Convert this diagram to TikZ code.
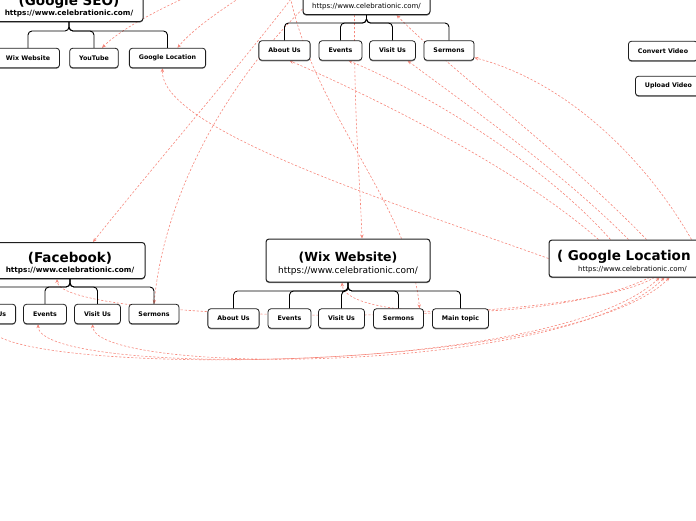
\documentclass[tikz,border=0pt]{standalone}
\usepackage{fontspec}
\setmainfont{DejaVu Sans}
\usetikzlibrary{arrows.meta,shadows,calc}
\pgfdeclarelayer{bg}
\pgfsetlayers{bg,main}
\definecolor{linkred}{RGB}{246,136,124}
\definecolor{boxline}{RGB}{30,30,30}
\newcommand{\ttlfont}{\fontsize{13.5}{14}\selectfont\bfseries}
\newcommand{\wixttl}{\fontsize{12.5}{14}\selectfont\bfseries}
\tikzset{
  box/.style={draw=boxline, line width=0.8pt, rounded corners=3pt, fill=white,
    drop shadow={shadow xshift=0pt, shadow yshift=-1.1pt, fill=black!55, opacity=0.8}},
  kid/.style={box, font=\fontsize{6.3}{7.5}\selectfont\bfseries, inner xsep=9.5pt, inner ysep=0pt, minimum height=19.5pt},
  hub/.style={box, line width=1pt, align=center, inner xsep=6pt},
  tree/.style={draw=black, line width=0.9pt, rounded corners=4pt},
  link/.style={draw=linkred, line width=0.6pt, dash pattern=on 2.2pt off 1.8pt,
    -{Stealth[length=4pt,width=3.4pt]}},
  both/.style={{Stealth[length=4pt,width=3.4pt]}-{Stealth[length=4pt,width=3.4pt]}},
}
\begin{document}
\begin{tikzpicture}[x=1pt,y=-1pt]
\useasboundingbox (0,0) rectangle (696,520);

% hubs
\node[hub, minimum width=148pt, anchor=south, inner ysep=4.5pt, font=\fontsize{7.3}{9.5}\selectfont\bfseries] (seo) at (69,22)
  {{\ttlfont (Google SEO)}\\https://www.celebrationic.com/};
\node[hub, minimum width=127pt, anchor=south, inner ysep=5pt, font=\fontsize{7}{12}\selectfont] (topc) at (366.5,15)
  {{\ttlfont\strut}\\https://www.celebrationic.com/};
\node[hub, minimum width=150pt, minimum height=36pt, font=\fontsize{7.3}{10}\selectfont\bfseries] (fb) at (70,260.5)
  {{\ttlfont\rule{0pt}{16pt}(Facebook)}\\https://www.celebrationic.com/};
\node[hub, minimum width=164pt, minimum height=43pt, font=\fontsize{9}{11.5}\selectfont] (wix) at (348,260.5)
  {{\wixttl\rule{0pt}{15.5pt}(Wix Website)}\\https://www.celebrationic.com/};
\node[hub, minimum width=167pt, minimum height=37pt, font=\fontsize{7}{11}\selectfont] (gl) at (632.5,258.5)
  {\makebox[151pt][l]{\ttlfont\rule{0pt}{16pt}( Google Location}\\https://www.celebrationic.com/};

% children
\node[kid] (seoWix) at (28,58) {Wix Website};
\node[kid] (seoYT) at (94,58) {YouTube};
\node[kid] (seoGL) at (167.5,58) {Google Location};
\node[kid] (tAbout) at (284.5,50.5) {About Us};
\node[kid] (tEvents) at (340.5,50.5) {Events};
\node[kid] (tVisit) at (392.5,50.5) {Visit Us};
\node[kid] (tSermons) at (449,50.5) {Sermons};
\node[kid] (fbAbout) at (-10,314) {About Us};
\node[kid] (fbEvents) at (45,314) {Events};
\node[kid] (fbVisit) at (97.5,314) {Visit Us};
\node[kid] (fbSermons) at (154,314) {Sermons};
\node[kid] (wAbout) at (233.5,318.5) {About Us};
\node[kid] (wEvents) at (289.5,318.5) {Events};
\node[kid] (wVisit) at (341.5,318.5) {Visit Us};
\node[kid] (wSermons) at (398.5,318.5) {Sermons};
\node[kid] (wMain) at (460.5,318.5) {Main topic};
\node[kid] (conv) at (663,51) {Convert Video};
\node[kid] (upl) at (668.5,86) {Upload Video};

% tree connectors
\coordinate (seoBar) at (0,31);
\coordinate (topBar) at (0,23);
\coordinate (fbBar) at (0,287);
\coordinate (wixBar) at (0,291);
\foreach \c in {seoWix,seoYT,seoGL}
  \draw[tree] (seo.south) -- (seo.south |- seoBar) -| (\c.north);
\foreach \c in {tAbout,tEvents,tVisit,tSermons}
  \draw[tree] (topc.south) -- (topc.south |- topBar) -| (\c.north);
\foreach \c in {fbAbout,fbEvents,fbVisit,fbSermons}
  \draw[tree] (fb.south) -- (fb.south |- fbBar) -| (\c.north);
\foreach \c in {wAbout,wEvents,wVisit,wSermons,wMain}
  \draw[tree] (wix.south) -- (wix.south |- wixBar) -| (\c.north);

% off-picture ends
\coordinate (offA) at (286,-30);
\coordinate (offB) at (305,-20);
\coordinate (offD) at (250,-30);
\coordinate (offE) at (300,-40);

\begin{pgfonlayer}{bg}
% from Google Location up to the top tree
\draw[link] ($(gl.north west)+(50,0)$) .. controls (520,170) and (380,100) .. ($(tAbout.south)+(5,0)$);
\draw[link] ($(gl.north west)+(62,0)$) .. controls (540,160) and (420,90) .. ($(tEvents.south)+(8,0)$);
\draw[link] ($(gl.north west)+(80,0)$) .. controls (560,170) and (460,100) .. ($(tVisit.south)+(15,0)$);
\draw[link] ($(gl.north west)+(98,0)$) .. controls (560,150) and (450,70) .. ($(topc.south)+(30,0)$);
\draw[link] ($(gl.north east)+(-25,0)$) .. controls (640,150) and (560,80) .. ($(tSermons.south east)+(0,-3)$);
\draw[link] (gl.west) .. controls (400,205) and (160,130) .. ($(seoGL.south)+(-5,0)$);
% from Google Location along the bottom
\draw[link] ($(gl.south)+(17,0)$) .. controls (560,322) and (345,322) .. ($(wix.south)+(-6,0)$);
\draw[link] ($(gl.south)+(22,0)$) .. controls (560,332) and (58,322) .. ($(fb.south)+(-13,0)$);
\draw[link,both] ($(gl.south)+(27,0)$) .. controls (560,374) and (40,378) .. ($(fbEvents.south)+(-7,0)$);
\draw[link,both] ($(gl.south)+(32,0)$) .. controls (565,376) and (95,376) .. ($(fbVisit.south)+(-5,0)$);
\draw[link,both] ($(gl.south)+(37,0)$) .. controls (570,378) and (-10,376) .. (fbAbout.south);
% from the top
\draw[link] ($(topc.south)+(-12,0)$) .. controls (354,120) and (360,180) .. ($(wix.north)+(14,0)$);
\draw[link] (offA) .. controls (300,100) and (410,200) .. ($(wSermons.north)+(21,0)$);
\draw[link] (offB) .. controls (270,30) and (150,170) .. ($(fb.north)+(23,0)$);
\draw[link] ($(topc.south west)+(0,-6)$) .. controls (230,80) and (165,190) .. (fbSermons.north);
\draw[link] (offD) .. controls (200,-10) and (130,20) .. ($(seoYT.north)+(8,0)$);
\draw[link] (offE) .. controls (260,-15) and (200,20) .. ($(seoGL.north)+(10,0)$);
\end{pgfonlayer}
\end{tikzpicture}
\end{document}
